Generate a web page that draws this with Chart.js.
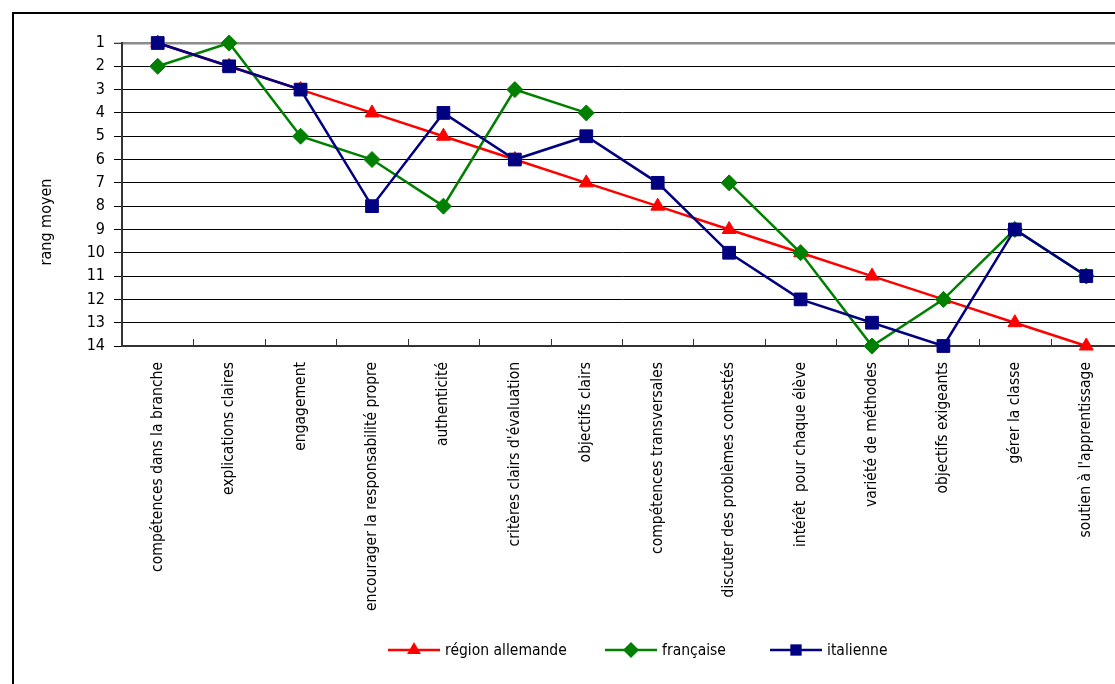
<!DOCTYPE html>
<html>
<head>
<meta charset="utf-8">
<title>rang moyen</title>
<script src="https://cdn.jsdelivr.net/npm/chart.js@4.4.0/dist/chart.umd.min.js"></script>
<style>
  html, body { margin: 0; padding: 0; background: #fff; overflow: hidden; }
  #wrap { width: 1115px; height: 684px; overflow: hidden; position: relative; }
  #rankChart { display: block; position: absolute; left: 0; top: 0; }
</style>
</head>
<body>
<div id="wrap"><canvas id="rankChart" width="1122" height="684"></canvas></div>
<script>
// Categories and average rank per language region (1 = best)
const categories = [
  "compétences dans la branche", "explications claires", "engagement",
  "encourager la responsabilité propre", "authenticité", "critères clairs d'évaluation",
  "objectifs clairs", "compétences transversales", "discuter des problèmes contestés",
  "intérêt  pour chaque élève", "variété de méthodes", "objectifs exigeants",
  "gérer la classe", "soutien à l'apprentissage"
];
const regionAllemande = [1, 2, 3, 4, 5, 6, 7, 8, 9, 10, 11, 12, 13, 14];
const francaise = [2, 1, 5, 6, 8, 3, 4, null, 7, 10, 14, 12, 9, 11];
const italienne = [1, 2, 3, 8, 4, 6, 5, 7, 10, 12, 13, 14, 9, 11];
const rankMin = 1;
const rankMax = 14;
const axisTitle = "rang moyen";

const FONT = "'DejaVu Sans Condensed', 'Liberation Sans Narrow', sans-serif";

function marker(ctx, style, x, y, r) {
  ctx.beginPath();
  if (style === 'triangle') {
    ctx.moveTo(x, y - r);
    ctx.lineTo(x + r * 0.866, y + r * 0.5);
    ctx.lineTo(x - r * 0.866, y + r * 0.5);
  } else if (style === 'rectRot') {
    ctx.moveTo(x, y - r);
    ctx.lineTo(x + r, y);
    ctx.lineTo(x, y + r);
    ctx.lineTo(x - r, y);
  } else {
    const s = r * Math.SQRT1_2;
    ctx.rect(x - s, y - s, 2 * s, 2 * s);
  }
  ctx.closePath();
  ctx.fill();
}

// frame, inner category ticks, axis title and line+marker legend
const legendX = [388, 605, 770];
const decorations = {
  id: 'decorations',
  beforeDraw(chart) {
    const ctx = chart.ctx;
    ctx.save();
    ctx.fillStyle = '#fff';
    ctx.fillRect(0, 0, chart.width, chart.height);
    ctx.strokeStyle = '#000';
    ctx.lineWidth = 2;
    ctx.strokeRect(13, 13, chart.width + 40, chart.height + 40);
    ctx.restore();
  },
  beforeDatasetsDraw(chart) {
    const ctx = chart.ctx;
    const xs = chart.scales.x;
    const step = (xs.right - xs.left) / categories.length;
    ctx.save();
    ctx.strokeStyle = '#333';
    ctx.lineWidth = 1;
    for (let i = 1; i < categories.length; i++) {
      const px = Math.round(xs.left + i * step) + 0.5;
      ctx.beginPath();
      ctx.moveTo(px, xs.top - 7);
      ctx.lineTo(px, xs.top + 1);
      ctx.stroke();
    }
    ctx.restore();
  },
  afterDraw(chart) {
    const ctx = chart.ctx;
    ctx.save();
    // y axis title
    ctx.translate(47, 222);
    ctx.rotate(-Math.PI / 2);
    ctx.font = '16px ' + FONT;
    ctx.fillStyle = '#000';
    ctx.textAlign = 'center';
    ctx.textBaseline = 'middle';
    ctx.fillText(axisTitle, 0, 0);
    ctx.restore();

    // legend
    ctx.save();
    ctx.font = '15.5px ' + FONT;
    ctx.textBaseline = 'middle';
    const ly = 650;
    chart.data.datasets.forEach((ds, i) => {
      const lx = legendX[i];
      ctx.strokeStyle = ds.borderColor;
      ctx.lineWidth = 2.5;
      ctx.beginPath();
      ctx.moveTo(lx, ly);
      ctx.lineTo(lx + 52, ly);
      ctx.stroke();
      ctx.fillStyle = ds.pointBackgroundColor;
      marker(ctx, ds.pointStyle, lx + 26, ly, ds.legendRadius);
      ctx.fillStyle = '#000';
      ctx.fillText(ds.label, lx + 57, ly + 1);
    });
    ctx.restore();
  }
};

new Chart(document.getElementById('rankChart').getContext('2d'), {
  type: 'line',
  data: {
    labels: categories,
    datasets: [{
      label: 'région allemande',
      data: regionAllemande,
      borderColor: '#ff0000',
      pointBackgroundColor: '#ff0000',
      pointBorderColor: '#ff0000',
      pointStyle: 'triangle',
      pointRadius: 8,
      legendRadius: 8,
      order: 3
    }, {
      label: 'française',
      data: francaise,
      borderColor: '#008000',
      pointBackgroundColor: '#008000',
      pointBorderColor: '#008000',
      pointStyle: 'rectRot',
      pointRadius: 8,
      legendRadius: 8,
      order: 2
    }, {
      label: 'italienne',
      data: italienne,
      borderColor: '#000080',
      pointBackgroundColor: '#000080',
      pointBorderColor: '#000080',
      pointStyle: 'rect',
      pointRadius: 9,
      legendRadius: 8,
      order: 1
    }]
  },
  options: {
    responsive: false,
    animation: false,
    spanGaps: false,
    layout: { autoPadding: false, padding: { top: 43, left: 0, right: 0, bottom: 0 } },
    elements: {
      line: { borderWidth: 2.5, tension: 0, fill: false },
      point: { borderWidth: 1, hoverRadius: 8 }
    },
    datasets: { line: { clip: false } },
    plugins: {
      legend: { display: false },
      tooltip: { enabled: false }
    },
    scales: {
      y: {
        reverse: true,
        min: rankMin,
        max: rankMax,
        ticks: {
          stepSize: 1,
          autoSkip: false,
          padding: 9,
          color: '#000',
          font: { family: FONT, size: 16 }
        },
        grid: {
          color: c => c.tick && c.tick.value === rankMin ? '#8c8c8c' : '#000',
          lineWidth: c => c.tick && c.tick.value === rankMin ? 2.5 : 1,
          tickColor: '#000',
          tickWidth: 1,
          tickLength: 8
        },
        border: { color: '#333', width: 2 },
        afterFit: s => { s.width = 122; }
      },
      x: {
        offset: true,
        ticks: {
          autoSkip: false,
          minRotation: 90,
          maxRotation: 90,
          padding: 16,
          color: '#000',
          font: { family: FONT, size: 15.5 }
        },
        grid: { display: true, drawOnChartArea: false, drawTicks: false },
        border: { color: '#333', width: 2 },
        afterFit: s => {
          s.height = 684 - 346;
          s.paddingLeft = 0;
          s.paddingRight = 0;
        }
      }
    }
  },
  plugins: [decorations]
});
</script>
</body>
</html>
